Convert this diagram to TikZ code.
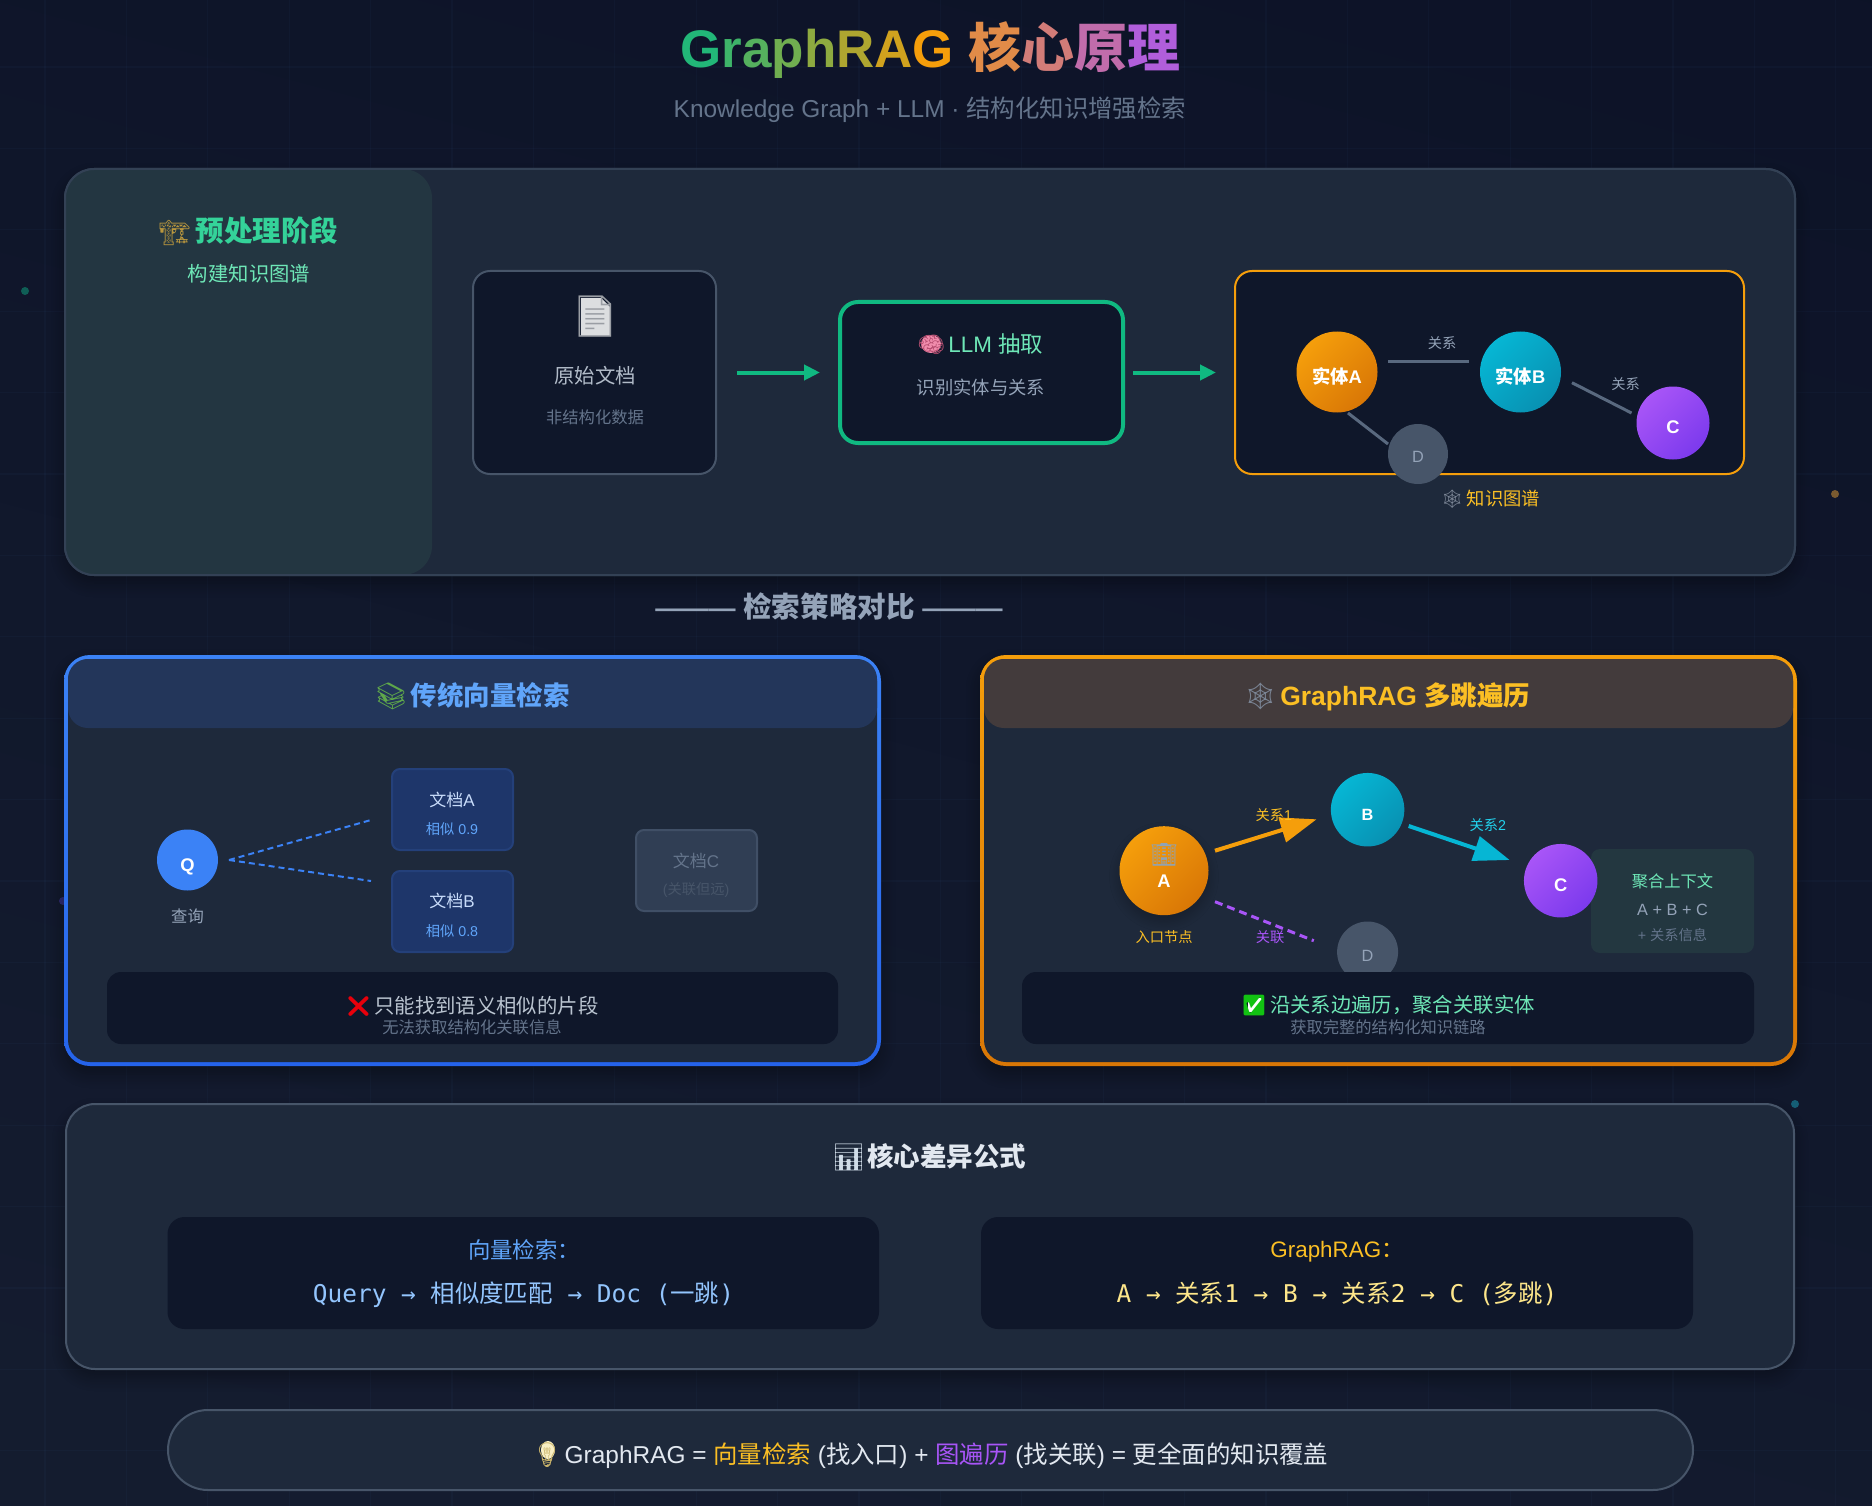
\documentclass[tikz,border=0pt]{standalone}
\usepackage{fontspec}
\usetikzlibrary{arrows.meta,shadows.blur}
\setmainfont{Liberation Sans}
\newfontfamily\cjk{Noto Sans CJK SC}
\newfontfamily\emo{Noto Emoji}
\newfontfamily\monof{DejaVu Sans Mono}
\newcommand{\zh}[1]{{\cjk #1}}
\newcommand{\emj}[2]{{\emo\textcolor[HTML]{#1}{#2}}}
\newcommand{\fs}[1]{\pgfmathsetmacro\fsz{#1*1.018}\fontsize{\fsz pt}{\fsz pt}\selectfont}
\newcommand{\dn}[2]{\raisebox{-#1pt}[0pt][0pt]{#2}}
\newcommand{\rbox}[6]{%
  \pgfmathsetmacro\rbw{#4-#2}\pgfmathsetmacro\rbh{#5-#3}%
  \node[inner sep=0pt,outer sep=0pt,minimum width=\rbw pt,minimum height=\rbh pt,anchor=north west,#6] (#1) at (#2,#3) {};}
\definecolor{cg}{HTML}{10B981}\definecolor{ca}{HTML}{F59E0B}\definecolor{cp}{HTML}{A855F7}
\definecolor{panel}{HTML}{1E293B}\definecolor{deep}{HTML}{0F172A}\definecolor{edge}{HTML}{334155}\definecolor{edgeb}{HTML}{475569}
\definecolor{mute}{HTML}{64748B}\definecolor{soft}{HTML}{94A3B8}\definecolor{pale}{HTML}{CBD5E1}
\definecolor{mint}{HTML}{6EE7B7}\definecolor{gold}{HTML}{FBBF24}\definecolor{sky}{HTML}{60A5FA}
\definecolor{bgtop}{HTML}{0C1227}\definecolor{bgbot}{HTML}{151D30}
\definecolor{caB}{HTML}{D97706}\definecolor{cyA}{HTML}{06B6D4}\definecolor{cyB}{HTML}{0891B2}\definecolor{cpB}{HTML}{7C3AED}
\definecolor{cyT}{HTML}{22D3EE}\definecolor{blueq}{HTML}{3B82F6}\definecolor{blueE}{HTML}{2563EB}
\definecolor{grn}{HTML}{34D399}\definecolor{presec}{HTML}{233641}\definecolor{vhead}{HTML}{23365A}\definecolor{rhead}{HTML}{433B3C}
\definecolor{dfill}{HTML}{1E366A}\definecolor{dedge}{HTML}{24407A}\definecolor{dtext}{HTML}{C8DCFA}
\definecolor{cfill}{HTML}{303E54}\definecolor{cedge}{HTML}{404F66}\definecolor{ctxfill}{HTML}{233740}
\definecolor{whitish}{HTML}{E2E8F0}
\definecolor{blueF}{HTML}{93C5FD}\definecolor{goldF}{HTML}{FDE68A}
\definecolor{dot1}{HTML}{0F5E56}\definecolor{dot2}{HTML}{7A5A30}\definecolor{dot3}{HTML}{155E75}\definecolor{dot4}{HTML}{2E2A70}
\definecolor{pagefill}{HTML}{DCDEE0}\definecolor{bulbfill}{HTML}{F8EFC4}\definecolor{brainfill}{HTML}{F08CAC}\definecolor{tickgreen}{HTML}{12C212}
\tikzset{
  lbl/.style={inner sep=0pt,outer sep=0pt,align=center},
  panelbox/.style={fill=panel,draw=edge,line width=2pt,rounded corners=29pt},
  panelboxb/.style={fill=panel,draw=edgeb,line width=2pt,rounded corners=29pt},
  inkbox/.style={fill=deep,rounded corners=17pt},
  docblue/.style={fill=dfill,draw=dedge,line width=2pt,rounded corners=8pt},
  ball/.style n args={3}{circle,inner sep=0pt,outer sep=0pt,minimum size=#1pt,top color=#2,bottom color=#3,shading angle=45},
  flat/.style 2 args={circle,inner sep=0pt,outer sep=0pt,minimum size=#1pt,fill=#2},
  flowarrow/.style={line width=4pt,draw=cg,-{Triangle[length=16pt,width=15pt]}},
  link/.style={line width=3pt,draw=mute!85!panel},
  softshadow/.style={blur shadow={shadow xshift=0pt,shadow yshift=-8pt,shadow blur steps=10,shadow blur radius=14pt,shadow opacity=35}},
}
\begin{document}
\begin{tikzpicture}[x=1pt,y=-1pt,every node/.style={text=white}]
\useasboundingbox (0,0) rectangle (1872,1506);
\begin{scope}
\clip (0,0) rectangle (1872,1506);
\shade[top color=bgtop,bottom color=bgbot,shading angle=-15] (-300,-300) rectangle (2172,1806);
\foreach \gx in {45,126.4,...,1872} \draw[line width=1.2pt,draw=sky,draw opacity=.03] (\gx,0) -- (\gx,1506);
\foreach \gy in {67,148.4,...,1506} \draw[line width=1.2pt,draw=sky,draw opacity=.03] (0,\gy) -- (1872,\gy);
\end{scope}
% drifting dots
\fill[fill=dot1] (25,291) circle (4);
\fill[fill=dot2] (1835,494) circle (4);
\fill[fill=dot3] (1795,1104) circle (4);
\fill[fill=dot4] (63,901) circle (4);
% title
\node[lbl,anchor=base,font=\fs{52}\bfseries] (title) at (930.5,68) {%
\textcolor{ca!8!cg}{G}\textcolor{ca!20!cg}{r}\textcolor{ca!30!cg}{a}\textcolor{ca!42!cg}{p}\textcolor{ca!55!cg}{h}\textcolor{ca!69!cg}{R}\textcolor{ca!84!cg}{A}\textcolor{ca}{G} \zh{\textcolor{cp!26!ca}{核}\textcolor{cp!46!ca}{心}\textcolor{cp!68!ca}{原}\textcolor{cp!88!ca}{理}}};
\node[lbl,anchor=base,font=\fs{24},text=mute] (subtitle) at (930,118) {Knowledge Graph + LLM · \zh{结构化知识增强检索}};
% top panel
\rbox{toppanel}{65}{169}{1795}{575}{panelbox,softshadow}
\rbox{prephase}{65}{169}{432}{575}{fill=presec,rounded corners=29pt}
\rbox{topedge}{65}{169}{1795}{575}{draw=edge,line width=2pt,rounded corners=29pt}
\node[lbl,font=\fs{28}\bfseries,text=grn] (pretitle) at (248.5,231) {{\fs{24.5}\emj{B8963E}{🏗}}\hspace{5pt}\zh{预处理阶段}};
\node[lbl,font=\fs{20},text=mint] (presub) at (249,274) {\zh{构建知识图谱}};
% raw document
\rbox{rawdoc}{473}{271}{716}{474}{fill=deep,draw=edgeb,line width=2pt,rounded corners=17pt}
\fill[fill=pagefill] (581,298) -- (601,298) -- (610,307) -- (610,336) -- (581,336) -- cycle;
\node[lbl,font=\fs{40}] (docicon) at (595,317) {\emj{9A9EA4}{📄}};
\node[lbl,font=\fs{20},text=pale!85!panel] (doctext) at (595,376) {\zh{原始文档}};
\node[lbl,font=\fs{16},text=mute] (docsub) at (595,417.5) {\zh{非结构化数据}};
% LLM
\rbox{llmbox}{840}{302}{1123}{443}{fill=deep,draw=cg,line width=4pt,rounded corners=18pt}
\fill[fill=brainfill] (931,344) ellipse (10 and 9);
\node[lbl,font=\fs{22},text=mint] (llmtext) at (980,344) {\emj{B84F72}{🧠}\hspace{3pt}LLM \zh{抽取}};
\node[lbl,font=\fs{18},text=soft] (llmsub) at (981,388) {\zh{识别实体与关系}};
% knowledge graph box
\rbox{kgbox}{1235}{271}{1744}{474}{fill=deep,draw=ca,line width=2pt,rounded corners=17pt}
\node[ball={81}{ca}{caB},font=\fs{18}\bfseries] (entA) at (1337,372) {\dn{11}{\zh{实体}A}};
\node[ball={81}{cyA}{cyB},font=\fs{18}\bfseries] (entB) at (1520.5,372) {\dn{11}{\zh{实体}B}};
\node[ball={73}{cp}{cpB},font=\fs{18}\bfseries] (entC) at (1673,423) {\dn{10.5}{C}};
\node[flat={60}{edgeb},text=soft,font=\fs{16}] (entD) at (1418,454) {\dn{8.3}{D}};
\coordinate (abS) at (1388,362);\coordinate (abE) at (1469,362);
\coordinate (bcS) at (1572,382.7);\coordinate (bcE) at (1631.5,413);
\coordinate (adS) at (1348,413);\coordinate (adE) at (1388,444);
\draw[link] (abS) -- (abE);
\draw[link] (bcS) -- (bcE);
\draw[link] (adS) -- (adE);
\node[lbl,font=\fs{14},text=soft] (relAB) at (1442,343) {\zh{关系}};
\node[lbl,font=\fs{14},text=soft] (relBC) at (1625.5,384.5) {\zh{关系}};
\node[lbl,font=\fs{18},text=gold] (kgtext) at (1490.5,499.5) {\emj{7A8494}{🕸}\hspace{3pt}\zh{知识图谱}};
\draw[flowarrow,shorten <=21pt,shorten >=20pt] (rawdoc.east) -- (llmbox.west);
\draw[flowarrow,shorten <=10pt,shorten >=19pt] (llmbox.east) -- (kgbox.west);
% section heading
\node[lbl,font=\fs{28}\bfseries,text=soft] (sect) at (829,606.5) {{\fs{26.3}———} \zh{检索策略对比} {\fs{26.3}———}};
% left compare panel
\rbox{vecpanel}{64}{655}{881}{1066}{top color=blueq,bottom color=blueE,rounded corners=26pt,softshadow}
\rbox{vecinner}{68}{659}{877}{1062}{fill=panel,rounded corners=22pt}
\rbox{vechead}{68}{659}{877}{728}{fill=vhead,rounded corners=20pt}
\node[lbl,font=\fs{26}\bfseries,text=sky] (vectitle) at (472,696.5) {\emj{5FA84A}{📚}\hspace{3pt}\zh{传统向量检索}};
\node[flat={61}{blueq},font=\fs{18}\bfseries] (qnode) at (187.5,860) {\dn{11.5}{Q}};
\node[lbl,font=\fs{16},text=soft] (qtext) at (187.5,916) {\zh{查询}};
\rbox{docA}{392}{769}{513}{850}{docblue}
\node[lbl,font=\fs{16.7},text=dtext] (docAt) at (452,800) {\zh{文档}A};
\node[lbl,font=\fs{14},text=sky] (docAs) at (452,829) {\zh{相似} 0.9};
\rbox{docB}{392}{871}{513}{952}{docblue}
\node[lbl,font=\fs{16.7},text=dtext] (docBt) at (452,901) {\zh{文档}B};
\node[lbl,font=\fs{14},text=sky] (docBs) at (452,931) {\zh{相似} 0.8};
\rbox{docC}{636}{830}{757}{911}{fill=cfill,draw=cedge,line width=2pt,rounded corners=8pt}
\node[lbl,font=\fs{16.7},text=mute] (docCt) at (696,861) {\zh{文档}C};
\node[lbl,font=\fs{14},text=edgeb] (docCs) at (696,890) {(\zh{关联但远})};
\coordinate (qS) at (229,860);\coordinate (qA) at (371,820);\coordinate (qB) at (371,881);
\draw[line width=2pt,draw=blueq,dash pattern=on 6pt off 4pt] (qS) -- (qA);
\draw[line width=2pt,draw=blueq,dash pattern=on 6pt off 4pt] (qS) -- (qB);
\rbox{vecnote}{107}{972}{838}{1044}{fill=deep,rounded corners=14pt}
\node[lbl,font=\fs{20},text=pale!90!panel] (vecmsg) at (472,1006) {\emj{E8000B}{❌}\hspace{3pt}\zh{只能找到语义相似的片段}};
\node[lbl,font=\fs{16},text=mute] (vecsub) at (472,1027) {\zh{无法获取结构化关联信息}};
% right compare panel
\rbox{ragpanel}{980}{655}{1797}{1066}{top color=ca,bottom color=caB,rounded corners=26pt,softshadow}
\rbox{raginner}{984}{659}{1793}{1062}{fill=panel,rounded corners=22pt}
\rbox{raghead}{984}{659}{1793}{728}{fill=rhead,rounded corners=20pt}
\node[lbl,font=\fs{26}\bfseries,text=gold] (ragtitle) at (1387,696.5) {\emj{7A8494}{🕸}\hspace{3pt}GraphRAG \zh{多跳遍历}};
\rbox{ctx}{1591}{849}{1754}{953}{fill=ctxfill,rounded corners=9pt}
\node[lbl,font=\fs{16},text=mint] (ctxa) at (1672.5,881) {\zh{聚合上下文}};
\node[lbl,font=\fs{16},text=soft] (ctxb) at (1672.5,910) {A + B + C};
\node[lbl,font=\fs{14},text=mute] (ctxc) at (1672.5,935) {+ \zh{关系信息}};
\node[ball={89}{ca}{caB},blur shadow={shadow xshift=0pt,shadow yshift=-6pt,shadow blur steps=8,shadow blur radius=10pt,shadow opacity=25}] (nA) at (1164,870.7) {};
\node[lbl,font=\fs{22}] (nAicon) at (1164,855) {\emj{8FA3B5}{🏢}};
\node[lbl,font=\fs{18}\bfseries] (nAt) at (1164,881) {A};
\node[ball={73.5}{cyA}{cyB},font=\fs{16}\bfseries] (nB) at (1367.6,809.7) {\dn{10.3}{B}};
\node[ball={73.5}{cp}{cpB},font=\fs{18}\bfseries] (nC) at (1560.7,880.7) {\dn{10.5}{C}};
\node[flat={61}{edgeb},text=soft,font=\fs{16}] (nD) at (1367.6,952) {\dn{9}{D}};
\coordinate (abFrom) at (1215,850.7);\coordinate (abTo) at (1316.6,819.3);
\coordinate (bcFrom) at (1408.7,826);\coordinate (bcTo) at (1509.7,860);
\coordinate (adFrom) at (1215,901.7);\coordinate (adTo) at (1313.8,940.7);
\draw[line width=4pt,draw=ca,-{Triangle[length=36pt,width=25pt]}] (abFrom) -- (abTo);
\draw[line width=4pt,draw=cyA,-{Triangle[length=36pt,width=25pt]}] (bcFrom) -- (bcTo);
\draw[line width=3pt,draw=cp,dash pattern=on 8pt off 5pt] (adFrom) -- (adTo);
\node[lbl,font=\fs{14},text=gold] (rel1) at (1273.8,815) {\zh{关系}1};
\node[lbl,font=\fs{14},text=cyT] (rel2) at (1487.7,825) {\zh{关系}2};
\node[lbl,font=\fs{14},text=cp] (rel3) at (1270,937) {\zh{关联}};
\node[lbl,font=\fs{14},text=gold] (entry) at (1164,937) {\zh{入口节点}};
\rbox{ragnote}{1022}{972}{1754}{1044}{fill=deep,rounded corners=14pt}
\fill[fill=white] (1248,998) rectangle (1262,1012);
\node[lbl,font=\fs{20},text=mint] (ragmsg) at (1388,1006) {\emj{12C212}{✅}\hspace{3pt}\zh{沿关系边遍历，聚合关联实体}};
\node[lbl,font=\fs{16},text=mute] (ragsub) at (1388,1027) {\zh{获取完整的结构化知识链路}};
% formula panel
\rbox{fpanel}{66}{1104}{1794}{1369}{panelboxb,softshadow}
\node[lbl,font=\fs{26}\bfseries,text=whitish] (ftitle) at (929,1157) {\emj{D0DCE8}{📊}\hspace{2pt}\zh{核心差异公式}};
\rbox{fleft}{167.5}{1217}{879}{1329}{inkbox}
\node[lbl,font=\fs{22},text=sky] (flt) at (524,1249.5) {\zh{向量检索：}};
\node[lbl,anchor=base,font=\fs{24}\monof,text=blueF] (flf) at (523.5,1302.5) {Query → \zh{相似度匹配} → Doc (\zh{一跳})};
\rbox{fright}{981}{1217}{1693}{1329}{inkbox}
\node[lbl,anchor=base,font=\fs{22},text=gold] (frt) at (1337,1257) {GraphRAG\zh{：}};
\node[lbl,anchor=base,font=\fs{24}\monof,text=goldF] (frf) at (1337,1302.5) {A → \zh{关系}1 → B → \zh{关系}2 → C (\zh{多跳})};
% bottom pill
\rbox{pill}{168}{1410}{1693}{1490}{fill=panel,draw=edgeb,line width=2pt,rounded corners=40pt}
\fill[fill=bulbfill] (548,1450) ellipse (7 and 9);
\node[lbl,anchor=base,font=\fs{24},text=whitish] (pilltext) at (930,1463) {\emj{C9B36A}{💡}\hspace{2pt}GraphRAG = \textcolor{gold}{\zh{向量检索}} (\zh{找入口}) + \textcolor{cp}{\zh{图遍历}} (\zh{找关联}) = \zh{更全面的知识覆盖}};
\end{tikzpicture}
\end{document}
